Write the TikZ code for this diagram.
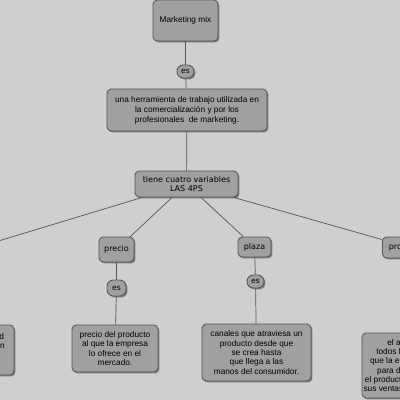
\documentclass[tikz,border=0pt]{standalone}
\usepackage{fontspec}
\setmainfont{Liberation Sans}
\newfontfamily\verdfont{DejaVu Sans}
\usetikzlibrary{shadows}
\definecolor{bgcol}{RGB}{207,207,207}
\definecolor{boxcol}{RGB}{160,160,160}
\definecolor{edgecol}{RGB}{85,85,85}
\tikzset{
  concept/.style={draw=edgecol, line width=0.6pt, fill=boxcol, rounded corners=3pt,
    align=center, inner sep=1pt,
    drop shadow={shadow xshift=1pt, shadow yshift=-1pt, fill=black!65, opacity=.7}},
  bigtxt/.style={font=\fontsize{5.9}{7.2}\selectfont},
  smalltxt/.style={font=\fontsize{5.9}{6.6}\selectfont},
  verdtxt/.style={font=\verdfont\fontsize{5.7}{6.9}\selectfont},
  linkword/.style={concept, rounded corners=4.5pt, font=\verdfont\fontsize{5.4}{6}\selectfont},
  link/.style={draw=edgecol, line width=0.5pt}
}
\begin{document}
\begin{tikzpicture}[x=0.025cm, y=-0.025cm]
\clip (0,0) rectangle (400,400);
\fill[bgcol] (0,0) rectangle (400,400);

% top of the map
\node[concept, bigtxt, minimum width=65*0.025cm, minimum height=41*0.025cm] (mix) at (185.5,20.5) {Marketing mix};
\node[linkword, minimum width=17*0.025cm, minimum height=13*0.025cm] (es1) at (185.5,71.5) {es};
\node[concept, bigtxt, minimum width=160*0.025cm, minimum height=42*0.025cm] (herr) at (187,110)
  {una herramienta de trabajo utilizada en\\la comercializaci\'on y por los\\profesionales\ \ de marketing.};
\node[concept, verdtxt, minimum width=103*0.025cm, minimum height=26*0.025cm] (tiene) at (186.5,184)
  {tiene cuatro variables\\LAS 4PS};

% the four variables
\node[concept, verdtxt, minimum width=45*0.025cm, minimum height=22*0.025cm] (prod) at (-28,249) {producto};
\node[concept, verdtxt, minimum width=35*0.025cm, minimum height=25*0.025cm] (precio) at (116.5,249.5) {precio};
\node[concept, verdtxt, minimum width=33*0.025cm, minimum height=20*0.025cm] (plaza) at (254.5,247) {plaza};
\node[concept, verdtxt, minimum width=55*0.025cm, minimum height=21*0.025cm] (promo) at (410,247.5) {promoci\'on};

\node[linkword, minimum width=19*0.025cm, minimum height=16*0.025cm] (es2) at (116.5,288) {es};
\node[linkword, minimum width=17*0.025cm, minimum height=13*0.025cm] (es3) at (255.5,281.5) {es};

% descriptions
\node[concept, smalltxt, minimum width=100*0.025cm, minimum height=50*0.025cm] (proddesc) at (-36,350)
  {bienes de alta calidad\\que las firmas ofrecen\\a sus clientes\\en el mercado.};
\node[concept, smalltxt, minimum width=86*0.025cm, minimum height=47*0.025cm] (preciodesc) at (115,348.5)
  {precio del producto\\al que la empresa\\lo ofrece en el\\mercado.};
\node[concept, smalltxt, minimum width=109*0.025cm, minimum height=57*0.025cm] (plazadesc) at (256.5,352.5)
  {canales que atraviesa un\\producto desde que\\se crea hasta\\que llega a las\\manos del consumidor.};
\node[concept, smalltxt, minimum width=100*0.025cm, minimum height=65*0.025cm] (promodesc) at (412,365.5)
  {el anuncio de\\todos los esfuerzos\\que la empresa realiza\\para dar a conocer\\el producto e incrementar\\sus ventas en el mercado.};

% connectors
\draw[link] (mix) -- (es1);
\draw[link] (es1) -- (herr);
\draw[link] (herr) -- (tiene);
\draw[link] (tiene) -- (prod);
\draw[link] (tiene) -- (precio);
\draw[link] (tiene) -- (plaza);
\draw[link] (tiene) -- (promo);
\draw[link] (precio) -- (es2);
\draw[link] (es2) -- (preciodesc);
\draw[link] (plaza) -- (es3);
\draw[link] (es3) -- (plazadesc);
\draw[link] (prod) -- (proddesc);
\draw[link] (promo) -- (promodesc);
\end{tikzpicture}
\end{document}
